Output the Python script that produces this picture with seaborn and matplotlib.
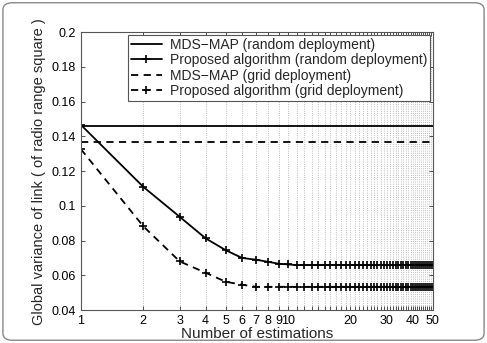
import numpy as np
import pandas as pd
import seaborn as sns
import matplotlib.pyplot as plt
from matplotlib.patches import FancyBboxPatch
from matplotlib.ticker import FixedLocator, FixedFormatter, NullLocator

# estimations 1..50
n_est = list(range(1, 51))

# proposed algorithm, random deployment
prop_random_head = [0.1467, 0.111, 0.0937, 0.0813, 0.0745, 0.0700, 0.0690, 0.0678, 0.0667, 0.0663]
prop_random_tail = [0.0659] * 40
# proposed algorithm, grid deployment
prop_grid_head = [0.1327, 0.0883, 0.0680, 0.0615, 0.0563, 0.0546]
prop_grid_tail = [0.0534] * 44
# MDS-MAP baselines (flat)
mds_random = [0.1459] * 50
mds_grid = [0.1367] * 50

y_ticks = [0.04, 0.06, 0.08, 0.1, 0.12, 0.14, 0.16, 0.18, 0.2]
y_tick_labels = ["0.04", "0.06", "0.08", "0.1", "0.12", "0.14", "0.16", "0.18", "0.2"]
x_labelled = [1, 2, 3, 4, 5, 6, 7, 8, 9, 10, 20, 30, 40, 50]

df = pd.DataFrame({
    "n": n_est,
    "mds_random": mds_random,
    "prop_random": prop_random_head + prop_random_tail,
    "mds_grid": mds_grid,
    "prop_grid": prop_grid_head + prop_grid_tail,
})

sns.set_style("white")
plt.rcParams["font.family"] = ["Liberation Sans", "DejaVu Sans"]

fig = plt.figure(figsize=(4.87, 3.43), dpi=100)
ax = fig.add_axes([0.166, 0.096, 0.723, 0.81])

lw = 1.3
sns.lineplot(data=df, x="n", y="mds_random", ax=ax, color="black", lw=lw,
             label="MDS\u2212MAP (random deployment)")
sns.lineplot(data=df, x="n", y="prop_random", ax=ax, color="black", lw=lw,
             marker="+", markersize=6, markeredgewidth=1.2, markeredgecolor="black",
             label="Proposed algorithm (random deployment)")
sns.lineplot(data=df, x="n", y="mds_grid", ax=ax, color="black", lw=lw,
             linestyle=(0, (4, 3)), label="MDS\u2212MAP (grid deployment)")
sns.lineplot(data=df, x="n", y="prop_grid", ax=ax, color="black", lw=lw,
             linestyle=(0, (4, 3)), marker="+", markersize=6, markeredgewidth=1.2,
             markeredgecolor="black", label="Proposed algorithm (grid deployment)")

ax.set_xscale("log")
ax.set_xlim(1, 50)
ax.set_ylim(0.04, 0.2)

ax.xaxis.set_major_locator(FixedLocator(n_est))
ax.xaxis.set_major_formatter(FixedFormatter(
    [str(v) if v in x_labelled else "" for v in n_est]))
ax.xaxis.set_minor_locator(NullLocator())
ax.set_yticks(y_ticks)
ax.set_yticklabels(y_tick_labels)

ax.tick_params(direction="in", length=3, width=0.6, labelsize=9,
               top=True, right=True, bottom=True, left=True, colors="#333333",
               labelcolor="black")
ax.grid(axis="x", color="#aaaaaa", linestyle=":", linewidth=0.6)
ax.grid(axis="y", visible=False)
for s in ax.spines.values():
    s.set_color("#555555")
    s.set_linewidth(0.8)

ax.set_xlabel("Number of estimations", fontsize=11, labelpad=0)
ax.set_ylabel("Global variance of link ( of radio range square )", fontsize=10.5, labelpad=4)

leg = ax.legend(loc="upper right", fontsize=10, frameon=True, fancybox=False,
                borderpad=0.2, labelspacing=0.1, handlelength=2.2,
                handletextpad=0.6, borderaxespad=0.2, framealpha=1)
leg.get_frame().set_edgecolor("#555555")
leg.get_frame().set_linewidth(0.8)

# rounded outer frame of the figure
frame = FancyBboxPatch((0.006, 0.008), 0.988, 0.984, boxstyle="round,pad=0,rounding_size=0.02",
                       transform=fig.transFigure, fill=False, edgecolor="#888888", lw=1.0)
fig.patches.append(frame)

fig.savefig("out.png", dpi=100)
